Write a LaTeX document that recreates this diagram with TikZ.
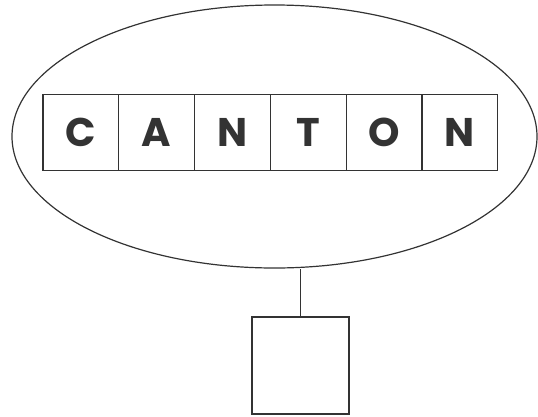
\documentclass[tikz,border=0pt]{standalone}
\usepackage{fontspec}
\setsansfont{Poppins}
\usetikzlibrary{positioning,shapes.geometric}
\definecolor{inkgray}{HTML}{333333}

\begin{document}
\begin{tikzpicture}[x=1pt,y=-1pt,node distance=0pt,
    letter/.style={draw=inkgray,line width=1.3pt,minimum size=75.8pt,inner sep=0pt,outer sep=0pt,
      text=inkgray,font=\sffamily\bfseries\fontsize{40}{40}\selectfont}]
  \useasboundingbox (0,0) rectangle (538,416);
  \node (oval) [ellipse,draw=inkgray,line width=1.2pt,minimum width=525pt,minimum height=263pt,inner sep=0pt] at (274.5,136.5) {};
  \node (C) [letter] at (80.9,132.5) {C};
  \node (A) [letter,right=of C] {A};
  \node (N) [letter,right=of A] {N};
  \node (T) [letter,right=of N] {T};
  \node (O) [letter,right=of T] {O};
  \node (N2) [letter,right=of O] {N};
  \node (box) [draw=inkgray,line width=1.3pt,minimum size=97pt,inner sep=0pt] at (300.5,365.5) {};
  \draw[inkgray,line width=1.3pt] (box.north) -- (box.north |- oval.south);
\end{tikzpicture}
\end{document}
